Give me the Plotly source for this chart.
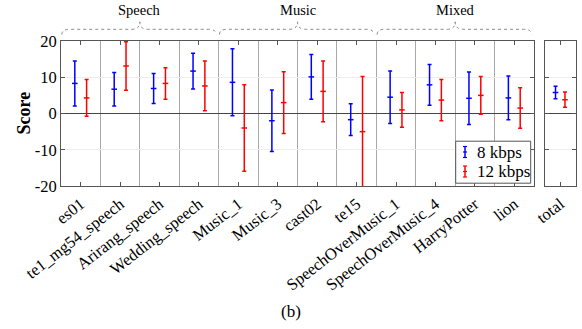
import plotly.graph_objects as go

# ---------------- data ----------------
categories = ["es01", "te1_mg54_speech", "Arirang_speech", "Wedding_speech",
              "Music_1", "Music_3", "cast02", "te15",
              "SpeechOverMusic_1", "SpeechOverMusic_4", "HarryPotter", "lion"]
mean_8kbps = [8.3, 6.7, 6.9, 11.7, 8.6, -2.0, 10.1, -1.7, 4.5, 7.9, 4.2, 4.3]
ci_8kbps = [6.2, 4.6, 4.15, 4.95, 9.25, 8.45, 6.15, 4.4, 7.25, 5.65, 7.25, 6.05]
mean_12kbps = [4.3, 13.1, 8.3, 7.6, -4.0, 3.0, 6.1, -5.0, 1.0, 3.7, 5.0, 1.5]
ci_12kbps = [5.05, 6.7, 4.35, 6.85, 11.95, 8.55, 8.4, 15.2, 4.8, 5.7, 5.2, 5.6]

total_categories = ["total"]
total_mean_8kbps = [5.8]
total_ci_8kbps = [1.75]
total_mean_12kbps = [3.8]
total_ci_12kbps = [2.1]

groups = ["Speech", "Music", "Mixed"]
group_sizes = [4, 4, 4]
series_names = ["8 kbps", "12 kbps"]
y_tick_values = [-20, -10, 0, 10, 20]
y_tick_labels = ["-20", "-10", "0", "10", "20"]

# ---------------- style ----------------
FONT = "Times New Roman, Liberation Serif, DejaVu Serif, serif"
BLUE = "#0000FF"
RED = "#FF0000"
AXIS_COLOR = "#555555"
OFFSET = 0.15

fig = go.Figure()


def add_series(xs, means, cis, color, xaxis, yaxis):
    fig.add_trace(go.Scatter(
        x=xs, y=means, mode="markers", showlegend=False,
        xaxis=xaxis, yaxis=yaxis,
        marker=dict(symbol="line-ew", size=4, color=color,
                    line=dict(color=color, width=1.5)),
        error_y=dict(type="data", array=cis, symmetric=True,
                     color=color, thickness=1.5, width=2),
        hoverinfo="skip",
    ))


idx = list(range(len(categories)))
add_series([i - OFFSET for i in idx], mean_8kbps, ci_8kbps, BLUE, "x", "y")
add_series([i + OFFSET for i in idx], mean_12kbps, ci_12kbps, RED, "x", "y")
tidx = list(range(len(total_categories)))
add_series([i - OFFSET for i in tidx], total_mean_8kbps, total_ci_8kbps, BLUE, "x2", "y2")
add_series([i + OFFSET for i in tidx], total_mean_12kbps, total_ci_12kbps, RED, "x2", "y2")

# geometry (pixels -> paper)
L, R, T, B = 61, 6, 41, 143
W, H = 582, 329
PW = W - L - R
PH = H - T - B


def px_x(p):
    return (p - L) / PW


def px_y(p):
    return (T + PH - p) / PH


tick_font = dict(family=FONT, size=16.5, color="black")

common_x = dict(showline=True, linecolor=AXIS_COLOR, linewidth=1, mirror="ticks",
                ticks="inside", ticklen=4, tickcolor=AXIS_COLOR, tickangle=-38,
                ticklabelstandoff=1,
                tickfont=tick_font, zeroline=False, showgrid=False)
common_y = dict(range=[-20, 20], tickvals=y_tick_values, ticktext=y_tick_labels,
                showline=True, linecolor=AXIS_COLOR, linewidth=1, mirror="ticks",
                ticks="inside", ticklen=4, tickcolor=AXIS_COLOR,
                tickfont=tick_font, showgrid=True, gridcolor="#eeeeee",
                zeroline=True, zerolinecolor="#444444", zerolinewidth=1)

n = len(categories)
fig.update_layout(
    width=W, height=H,
    margin=dict(l=L, r=R, t=T, b=B),
    paper_bgcolor="white", plot_bgcolor="white",
    font=dict(family=FONT, color="black"),
    showlegend=False,
    xaxis=dict(domain=[0, px_x(534)], range=[-0.5, n - 0.5],
               tickvals=idx, ticktext=categories, anchor="y",
               minor=dict(tickmode="array", tickvals=[i + 0.5 for i in idx[:-1]],
                          showgrid=True, gridcolor="#a8a8a8", gridwidth=1, ticks=""),
               **common_x),
    yaxis=dict(domain=[0, 1], anchor="x", **common_y),
    xaxis2=dict(domain=[px_x(544.5), 1], range=[-0.5, 0.5],
                tickvals=tidx, ticktext=total_categories, anchor="y2", **common_x),
    yaxis2=dict(domain=[0, 1], anchor="x2", matches="y", showticklabels=False,
                **{k: v for k, v in common_y.items() if k not in ("tickfont",)}),
)

# group braces and labels
shapes = []
annotations = []
y_end, y_flat, y_tip = px_y(34.5), px_y(29.3), px_y(21.8)
d = 0.2
start = -0.5
for name, size in zip(groups, group_sizes):
    x0 = start + 0.02
    x1 = start + size - 0.06
    tip = start + size / 2
    path = (f"M {x0},{y_end} Q {x0},{y_flat} {x0 + d},{y_flat} "
            f"L {tip - d},{y_flat} Q {tip},{y_flat} {tip},{y_tip} "
            f"Q {tip},{y_flat} {tip + d},{y_flat} "
            f"L {x1 - d},{y_flat} Q {x1},{y_flat} {x1},{y_end}")
    shapes.append(dict(type="path", path=path, xref="x", yref="paper",
                       line=dict(color="#8a8a8a", width=1, dash="dot")))
    annotations.append(dict(x=tip, y=px_y(10.5), xref="x", yref="paper",
                            text=name, showarrow=False,
                            font=dict(family=FONT, size=14.5, color="black"),
                            xanchor="center", yanchor="middle"))
    start += size

# legend (box, icons, labels)
lx0, lx1, ly0, ly1 = 455.7, 530.7, 141.2, 183.2
shapes.append(dict(type="rect", xref="paper", yref="paper",
                   x0=px_x(lx0), x1=px_x(lx1), y0=px_y(ly1), y1=px_y(ly0),
                   line=dict(color="#555555", width=1), fillcolor="white", layer="above"))
for name, color, yc in zip(series_names, [BLUE, RED], [152.0, 171.5]):
    ix = 465.0
    shapes.append(dict(type="line", xref="paper", yref="paper",
                       x0=px_x(ix), x1=px_x(ix), y0=px_y(yc - 5.5), y1=px_y(yc + 5.5),
                       line=dict(color=color, width=1.5), layer="above"))
    for dy in (-5.5, 0, 5.5):
        shapes.append(dict(type="line", xref="paper", yref="paper",
                           x0=px_x(ix - 2), x1=px_x(ix + 2), y0=px_y(yc + dy), y1=px_y(yc + dy),
                           line=dict(color=color, width=1.2), layer="above"))
    annotations.append(dict(x=px_x(474.5), y=px_y(yc), xref="paper", yref="paper",
                            text=name, showarrow=False, xanchor="left", yanchor="middle",
                            font=dict(family=FONT, size=17, color="black")))

# y-axis title and caption
annotations.append(dict(x=px_x(23), y=0.5, xref="paper", yref="paper",
                        text="<b>Score</b>", showarrow=False, textangle=-90,
                        xanchor="center", yanchor="middle",
                        font=dict(family=FONT, size=18, color="black")))
annotations.append(dict(x=px_x(291), y=px_y(311.5), xref="paper", yref="paper",
                        text="(b)", showarrow=False, xanchor="center", yanchor="middle",
                        font=dict(family=FONT, size=17, color="black")))

fig.update_layout(shapes=shapes, annotations=annotations)
fig.write_html("out.html")
